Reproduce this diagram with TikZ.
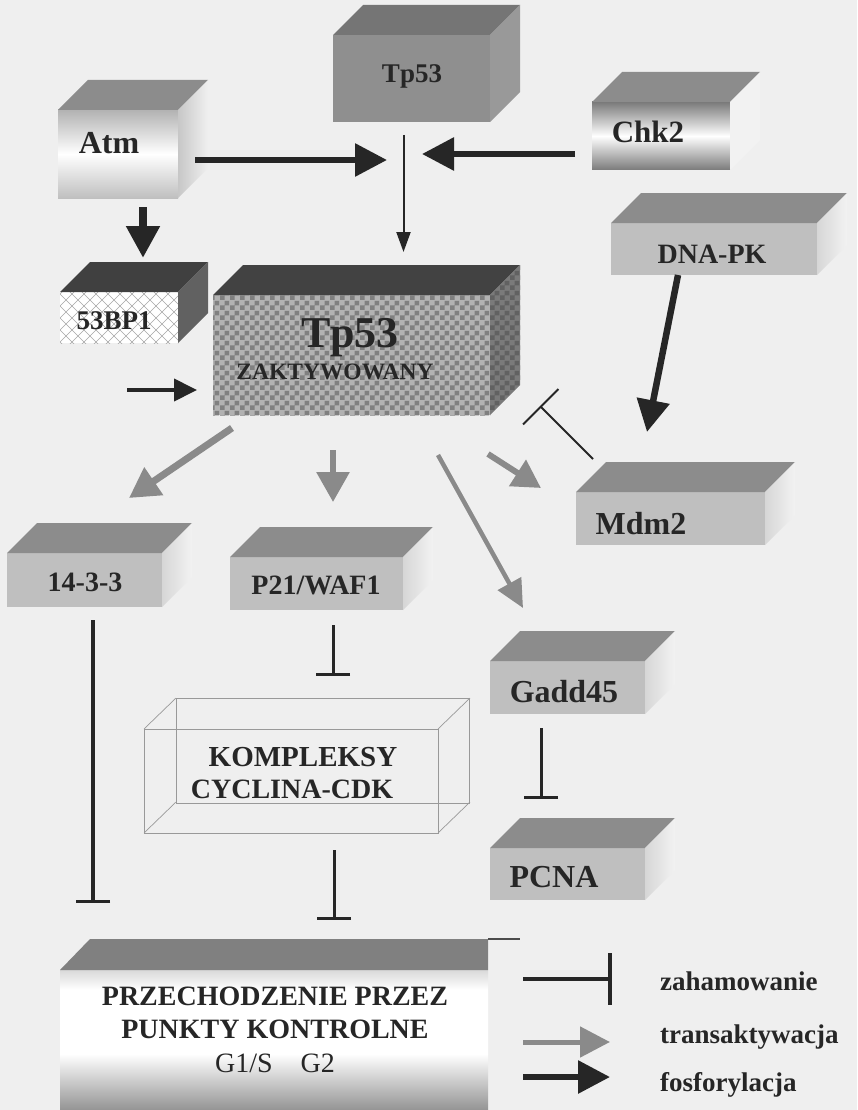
\documentclass[tikz,border=0pt]{standalone}
\usepackage{fontspec}
\setmainfont{Liberation Serif}
\usetikzlibrary{arrows.meta,patterns,calc}
\definecolor{ink}{HTML}{262626}
\definecolor{tgray}{HTML}{8A8A8A}
\definecolor{bg}{HTML}{EFEFEF}
\pgfdeclarepatternformonly{bigcheck}{\pgfpointorigin}{\pgfpoint{10pt}{10pt}}{\pgfpoint{10pt}{10pt}}{%
 \pgfpathrectangle{\pgfpointorigin}{\pgfpoint{5pt}{5pt}}%
 \pgfpathrectangle{\pgfpoint{5pt}{5pt}}{\pgfpoint{5pt}{5pt}}%
 \pgfusepath{fill}}
\pgfdeclarepatternformonly{dhatch}{\pgfpoint{-1pt}{-1pt}}{\pgfpoint{13pt}{13pt}}{\pgfpoint{12pt}{12pt}}{%
 \pgfsetlinewidth{0.6pt}%
 \pgfpathmoveto{\pgfpointorigin}\pgfpathlineto{\pgfpoint{12pt}{12pt}}%
 \pgfpathmoveto{\pgfpoint{0pt}{12pt}}\pgfpathlineto{\pgfpoint{12pt}{0pt}}%
 \pgfusepath{stroke}}
\pgfdeclareverticalshading{cpshade}{100bp}{color(0bp)=(black!42); color(25bp)=(black!42); color(45bp)=(white); color(68bp)=(white); color(75bp)=(black!15); color(100bp)=(black!15)}
\newcommand\fsz[1]{\fontsize{#1}{#1}\selectfont}
% #1 name, #2 x, #3 y, #4 w, #5 h, #6 top style, #7 side style, #8 front style
\newcommand\cubebox[8]{%
 \node[face,minimum width=#4pt,minimum height=#5pt,anchor=north west,#8] (#1) at (#2,#3) {};
 \path[#6] (#1.north west) -- ++(30,-30) -- ++(#4,0) -- (#1.north east) -- cycle;
 \path[#7] (#1.north east) -- ++(30,-30) -- ++(0,#5) -- (#1.south east) -- cycle;}
\begin{document}
\begin{tikzpicture}[x=1pt,y=-1pt,
  face/.style={inner sep=0pt,outer sep=0pt},
  lbl/.style={anchor=base,text=ink,font=\bfseries\fsz{28},inner sep=0pt},
  fos/.style={draw=ink,line width=6pt,-{Triangle[length=32pt,width=32pt]}},
  trans/.style={draw=tgray,line width=6pt,-{Triangle[length=30pt,width=32pt]}},
  inh/.style={draw=ink,line width=3pt,-{Bar[width=34pt,line width=3.5pt]}},
  wire/.style={draw=black!40,line width=0.7pt},
  topf/.style={fill=black!45},
  sidef/.style={left color=black!16,right color=black!5},
  frontf/.style={fill=black!25}]
\fill[bg] (0,0) rectangle (857,1110);
\useasboundingbox (0,0) rectangle (857,1110);

% ---- boxes ----
\cubebox{atm}{58}{110}{120}{88}{topf}{left color=black!22,right color=black!6}{top color=black!30,bottom color=black!25,middle color=white}
\cubebox{tpa}{333}{35}{157}{87}{fill=black!54}{fill=black!40}{fill=black!44}
\cubebox{chk}{592}{102}{138}{68}{fill=black!45}{fill=black!5}{top color=black!52,bottom color=black!52,middle color=white}
\cubebox{dnapk}{611}{223}{206}{52}{topf}{sidef}{frontf}
\cubebox{bp}{60}{292}{118}{51}{fill=black!75}{fill=black!62}{fill=white,postaction={pattern=dhatch,pattern color=black!35}}
\cubebox{act}{213}{295}{277}{120}{fill=black!74}{fill=black!52,postaction={pattern=bigcheck,pattern color=black!62}}{fill=black!30,postaction={pattern=bigcheck,pattern color=black!50}}
\cubebox{mdm}{576}{492}{189}{53}{topf}{sidef}{frontf}
\cubebox{f1433}{7}{553}{155}{54}{topf}{sidef}{frontf}
\cubebox{p21}{230}{557}{173}{53}{topf}{sidef}{frontf}
\cubebox{gadd}{490}{661}{155}{53}{topf}{sidef}{frontf}
\cubebox{pcna}{490}{848}{155}{52}{topf}{sidef}{frontf}

% bottom box
\node[face,minimum width=428pt,minimum height=140pt,anchor=north west,shading=cpshade] (cp) at (60,970) {};
\fill[black!50] (cp.north west) -- ++(30,-31) -- ++(398,0) -- (cp.north east) -- cycle;
\draw[black!70,line width=1.5pt] ($(cp.north east)+(0,-31)$) -- ++(32,0);

% cyclin wireframe
\node[face,minimum width=294pt,minimum height=104pt,anchor=north west,wire] (cyc) at (144,729) {};
\draw[wire] ($(cyc.north west)+(32,-31)$) rectangle ($(cyc.south east)+(31,-30)$);
\foreach \a in {north west,north east,south west,south east}
  \draw[wire] (cyc.\a) -- ++(32,-31);

% ---- texts ----
\node[lbl,font=\bfseries\fsz{32}] (atmT) at (109,154) {Atm};
\node[lbl,font=\bfseries\fsz{27}] (tpaT) at (412,83) {Tp53};
\node[lbl,font=\bfseries\fsz{31}] (chkT) at (648,143) {Chk2};
\node[lbl] (dnapkT) at (712,263) {DNA-PK};
\node[lbl,font=\bfseries\fsz{27}] (bpT) at (114,329) {53BP1};
\node[lbl,font=\bfseries\fsz{44}] (actT) at (350,347) {Tp53};
\node[lbl,font=\bfseries\fsz{23.5}] (actT2) at (335,379) {ZAKTYWOWANY};
\node[lbl,font=\bfseries\fsz{32}] (mdmT) at (641,534) {Mdm2};
\node[lbl] (f1433T) at (85,591) {14-3-3};
\node[lbl] (p21T) at (316,594) {P21/WAF1};
\node[lbl,font=\bfseries\fsz{29}] (cycT) at (303,766) {KOMPLEKSY};
\node[lbl] (cycT2) at (292,798) {CYCLINA-CDK};
\node[lbl,font=\bfseries\fsz{32}] (gaddT) at (564,702) {Gadd45};
\node[lbl,font=\bfseries\fsz{32}] (pcnaT) at (554,887) {PCNA};
\node[lbl] (cpT) at (275,1005) {PRZECHODZENIE PRZEZ};
\node[lbl] (cpT2) at (275,1038) {PUNKTY KONTROLNE};
\node[lbl,font=\fsz{28}] (cpT3) at (275,1072) {G1/S\hspace{28pt}G2};

% ---- connectors ----
\coordinate (jA) at (387,160);
\coordinate (jC) at (422,154);
\coordinate (in1) at (127,390);
\draw[fos] ($(atm.east)+(17,6)$) -- (jA);
\draw[fos] ($(chk.west)+(-17,18)$) -- (jC);
\draw[draw=ink,line width=2pt,-{Triangle[length=20pt,width=14pt]}] ($(tpa.south)+(-8,13)$) -- ($(act.north)+(52,-43)$);
\draw[fos,line width=8pt] ($(atm.south)+(25,9)$) -- ($(bp.north)+(24,-34)$);
\draw[draw=ink,line width=4pt,-{Triangle[length=23pt,width=22pt]}] (in1) -- ($(act.west)+(-16,35)$);
\draw[fos,line width=6.5pt] ($(dnapk.south)+(-36,0)$) -- ($(mdm.north)+(-23.5,-60)$);
\draw[trans,line width=7pt] ($(act.south west)+(19,13)$) -- ($(f1433.north)+(44.5,-55)$);
\draw[trans] ($(act.south)+(-18.5,35)$) -- ($(p21.north)+(16.5,-55)$);
\draw[trans,-{Triangle[length=28pt,width=30pt]}] ($(act.south east)+(-2,39)$) -- ($(mdm.north west)+(-35,-4)$);
\draw[trans,line width=4.5pt,-{Triangle[length=28pt,width=26pt]}] ($(act.south east)+(-52,40)$) -- ($(gadd.north)+(-44.5,-53)$);
\draw[draw=ink,line width=2pt,-{Bar[width=50pt,line width=2pt]}] ($(mdm.north west)+(17,-33)$) -- ($(act.south east)+(50,-9)$);
\draw[inh,line width=3.5pt] ($(f1433.south)+(8.5,13)$) -- ($(cp.north west)+(33,-67)$);
\draw[inh] ($(p21.south)+(16.5,15)$) -- ($(cyc.north)+(42,-53)$);
\draw[inh] ($(cyc.south)+(43,17)$) -- ($(cp.north)+(60,-50)$);
\draw[inh] ($(gadd.south)+(-26.5,14)$) -- ($(pcna.north)+(-26.5,-49)$);

% ---- legend ----
\node[lbl,anchor=base west,font=\bfseries\fsz{27}] (lzah) at (660,990) {zahamowanie};
\node[lbl,anchor=base west,font=\bfseries\fsz{27}] (ltra) at (660,1043) {transaktywacja};
\node[lbl,anchor=base west,font=\bfseries\fsz{27}] (lfos) at (660,1091) {fosforylacja};
\coordinate (lz) at (523,979);
\coordinate (lt) at (523,1042);
\coordinate (lf) at (523,1077);
\draw[draw=ink,line width=4pt,-{Bar[width=52pt,line width=4pt]}] (lz) -- ++(89,0);
\draw[trans,line width=5pt,-{Triangle[length=30pt,width=30pt]}] (lt) -- ++(87,0);
\draw[fos,line width=6pt] (lf) -- ++(87,0);
\end{tikzpicture}
\end{document}
